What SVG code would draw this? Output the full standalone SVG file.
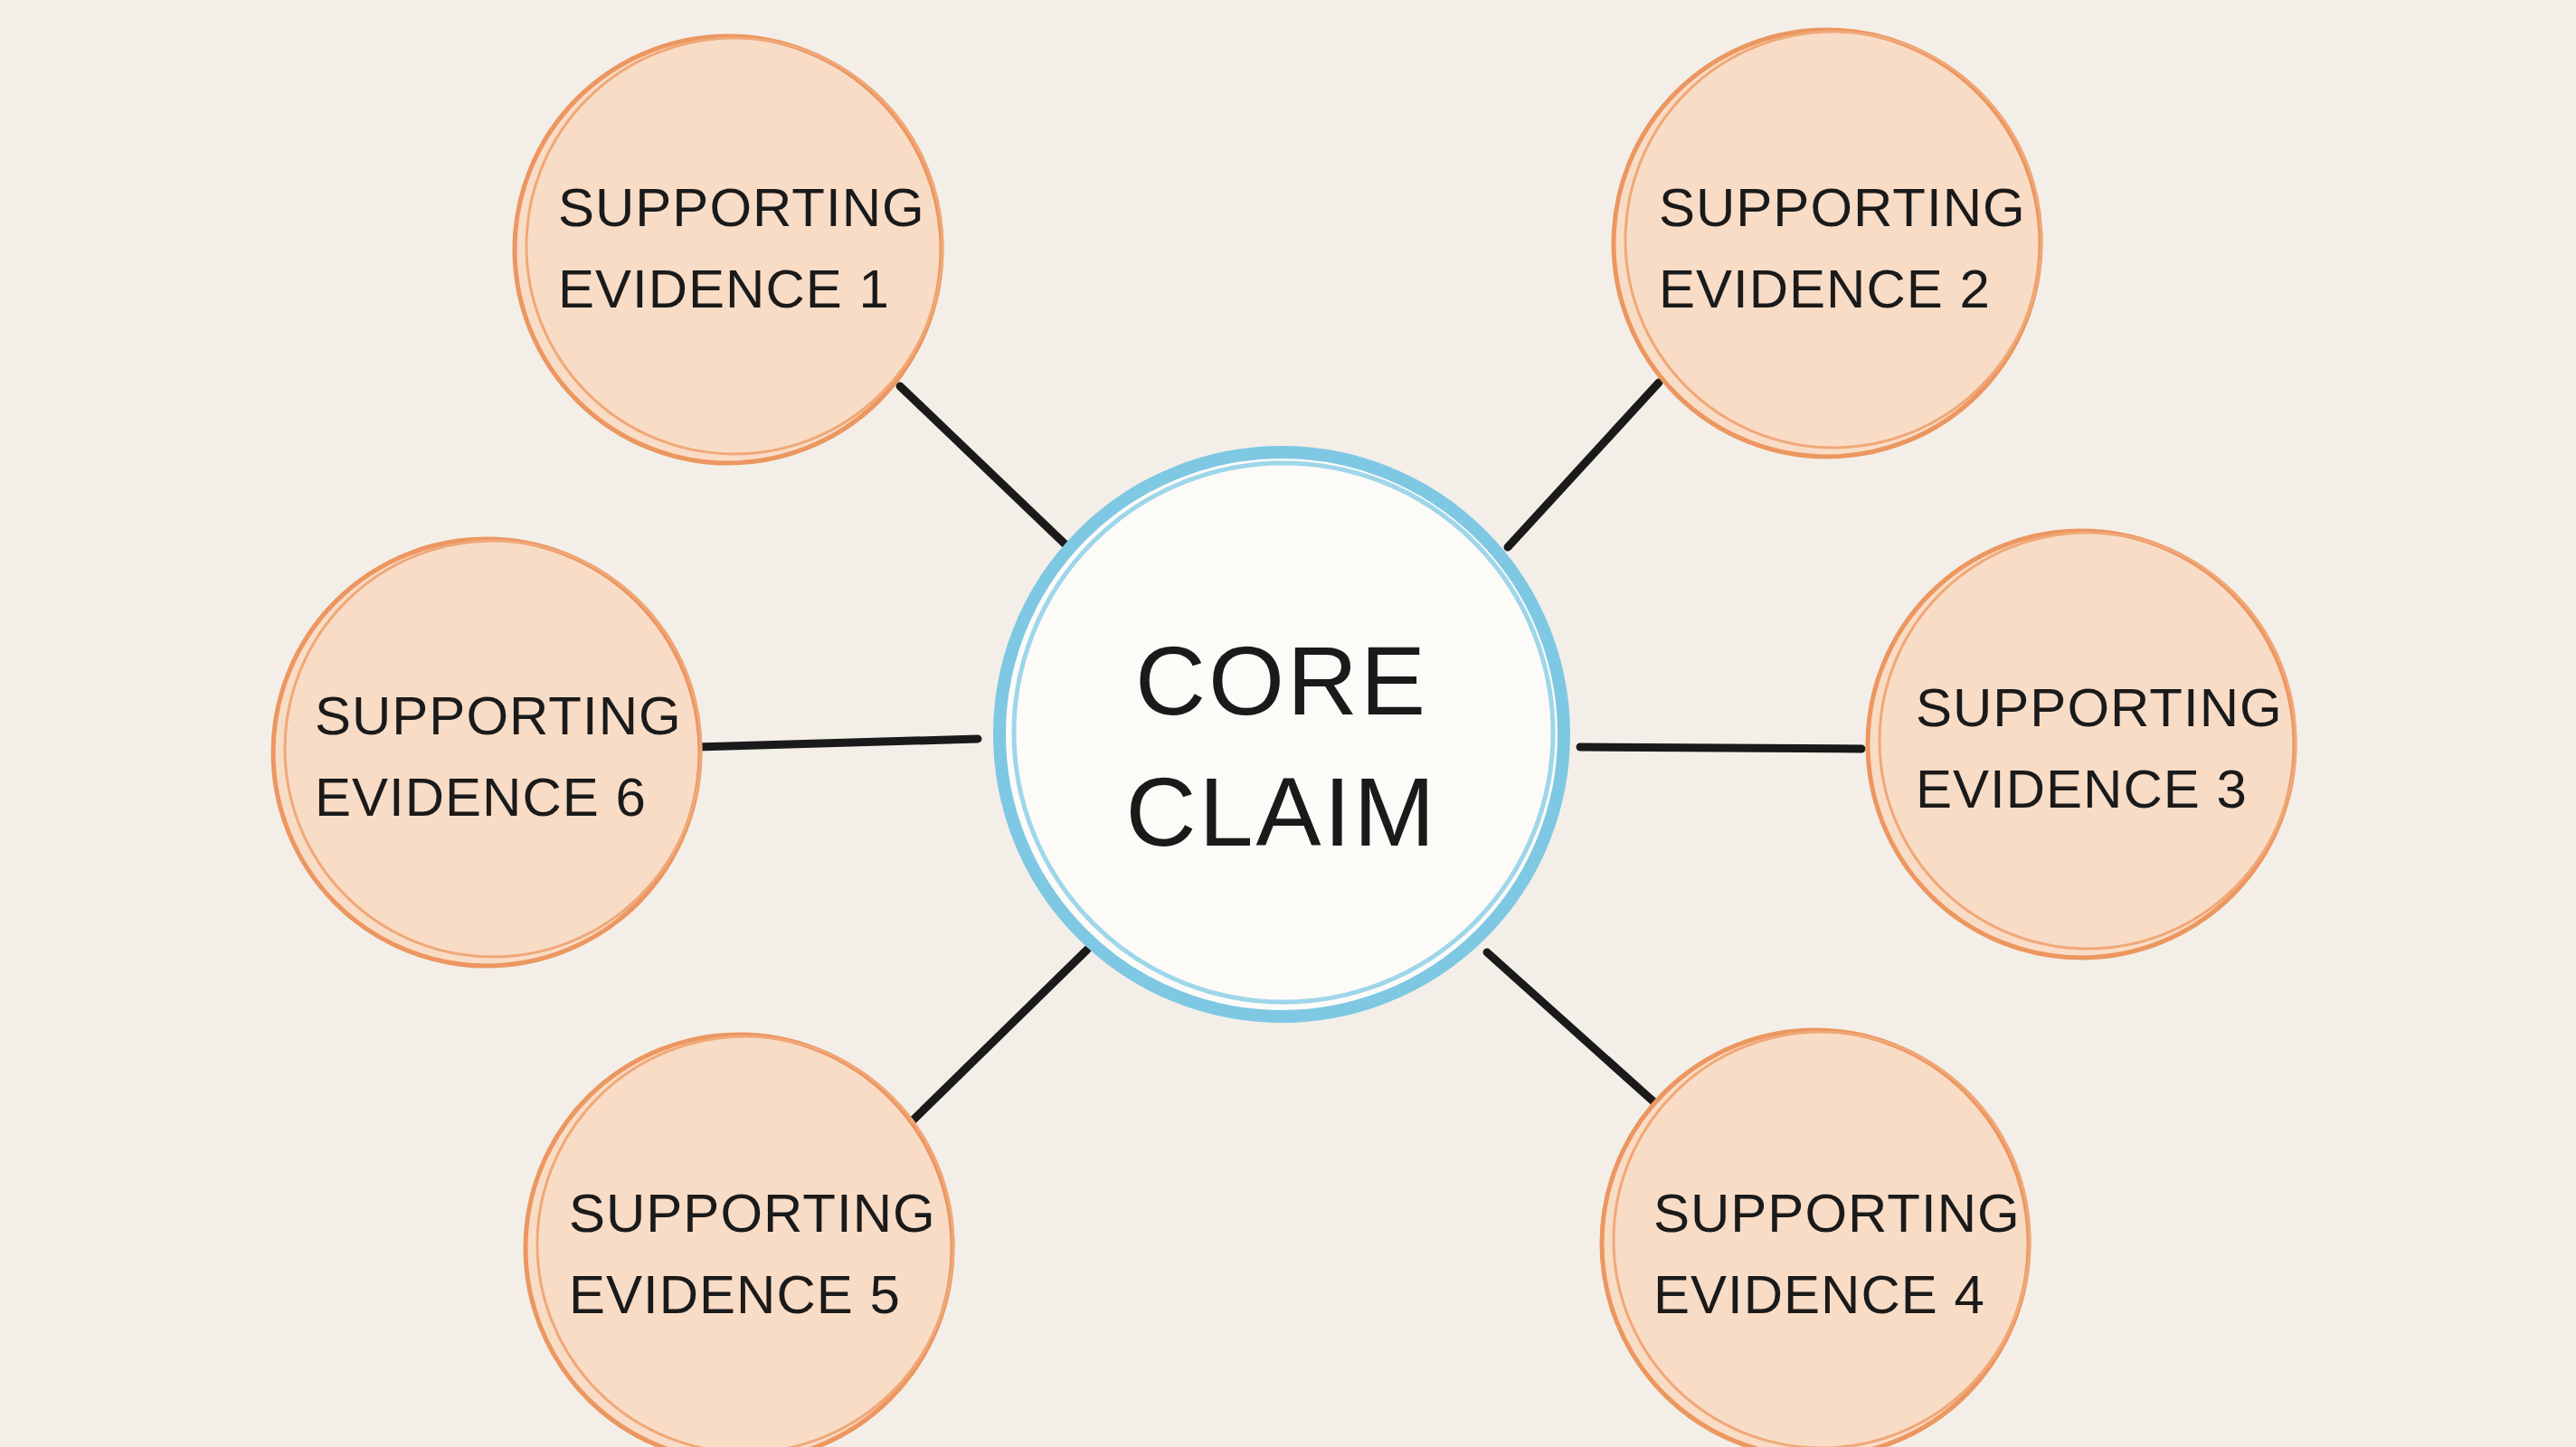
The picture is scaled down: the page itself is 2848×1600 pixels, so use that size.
<svg xmlns="http://www.w3.org/2000/svg" width="2848" height="1600" viewBox="0 0 2848 1600">
<style>
.ev circle.f{fill:#f9dcc6;stroke:#ec9660;stroke-width:5}
.ev circle.s{fill:none;stroke:#f0a878;stroke-width:3}
.t{font-family:"Liberation Sans",Arial,sans-serif;font-size:60px;fill:#1a1a1a;letter-spacing:1px}
.c{font-family:"Liberation Sans",Arial,sans-serif;font-size:108px;fill:#1a1a1a;letter-spacing:3px;text-anchor:middle}
#connectors line{stroke:#1a1a1a;stroke-width:9;stroke-linecap:round}
</style>
<rect width="2848" height="1600" fill="#f3efe8"/>
<g id="connectors">
<line x1="995" y1="427" x2="1181" y2="605"/>
<line x1="1834" y1="423" x2="1667" y2="605"/>
<line x1="1747" y1="826" x2="2058" y2="828"/>
<line x1="1644" y1="1053" x2="1847" y2="1235"/>
<line x1="1202" y1="1050" x2="1008" y2="1240"/>
<line x1="770" y1="826" x2="1081" y2="817"/>
</g>
<g id="core">
<circle cx="1417" cy="812" r="312" fill="#fdfbf8" stroke="#7ec8e3" stroke-width="14"/>
<circle cx="1419" cy="810" r="298" fill="none" stroke="#9ed6ea" stroke-width="5"/>
<text class="c" x="1417" y="790">CORE</text>
<text class="c" x="1417" y="935">CLAIM</text>
</g>
<g id="ev1" class="ev"><circle class="f" cx="805" cy="276" r="236"/><circle class="s" cx="812" cy="272" r="230"/><text class="t" x="617" y="250">SUPPORTING</text><text class="t" x="617" y="340">EVIDENCE  1</text></g>
<g id="ev2" class="ev"><circle class="f" cx="2020" cy="269" r="236"/><circle class="s" cx="2027" cy="265" r="230"/><text class="t" x="1834" y="250">SUPPORTING</text><text class="t" x="1834" y="340">EVIDENCE  2</text></g>
<g id="ev3" class="ev"><circle class="f" cx="2301" cy="823" r="236"/><circle class="s" cx="2308" cy="819" r="230"/><text class="t" x="2118" y="803">SUPPORTING</text><text class="t" x="2118" y="893">EVIDENCE  3</text></g>
<g id="ev4" class="ev"><circle class="f" cx="2007" cy="1375" r="236"/><circle class="s" cx="2014" cy="1371" r="230"/><text class="t" x="1828" y="1362">SUPPORTING</text><text class="t" x="1828" y="1452">EVIDENCE  4</text></g>
<g id="ev5" class="ev"><circle class="f" cx="817" cy="1380" r="236"/><circle class="s" cx="824" cy="1376" r="230"/><text class="t" x="629" y="1362">SUPPORTING</text><text class="t" x="629" y="1452">EVIDENCE  5</text></g>
<g id="ev6" class="ev"><circle class="f" cx="538" cy="832" r="236"/><circle class="s" cx="545" cy="828" r="230"/><text class="t" x="348" y="812">SUPPORTING</text><text class="t" x="348" y="902">EVIDENCE  6</text></g>
</svg>
